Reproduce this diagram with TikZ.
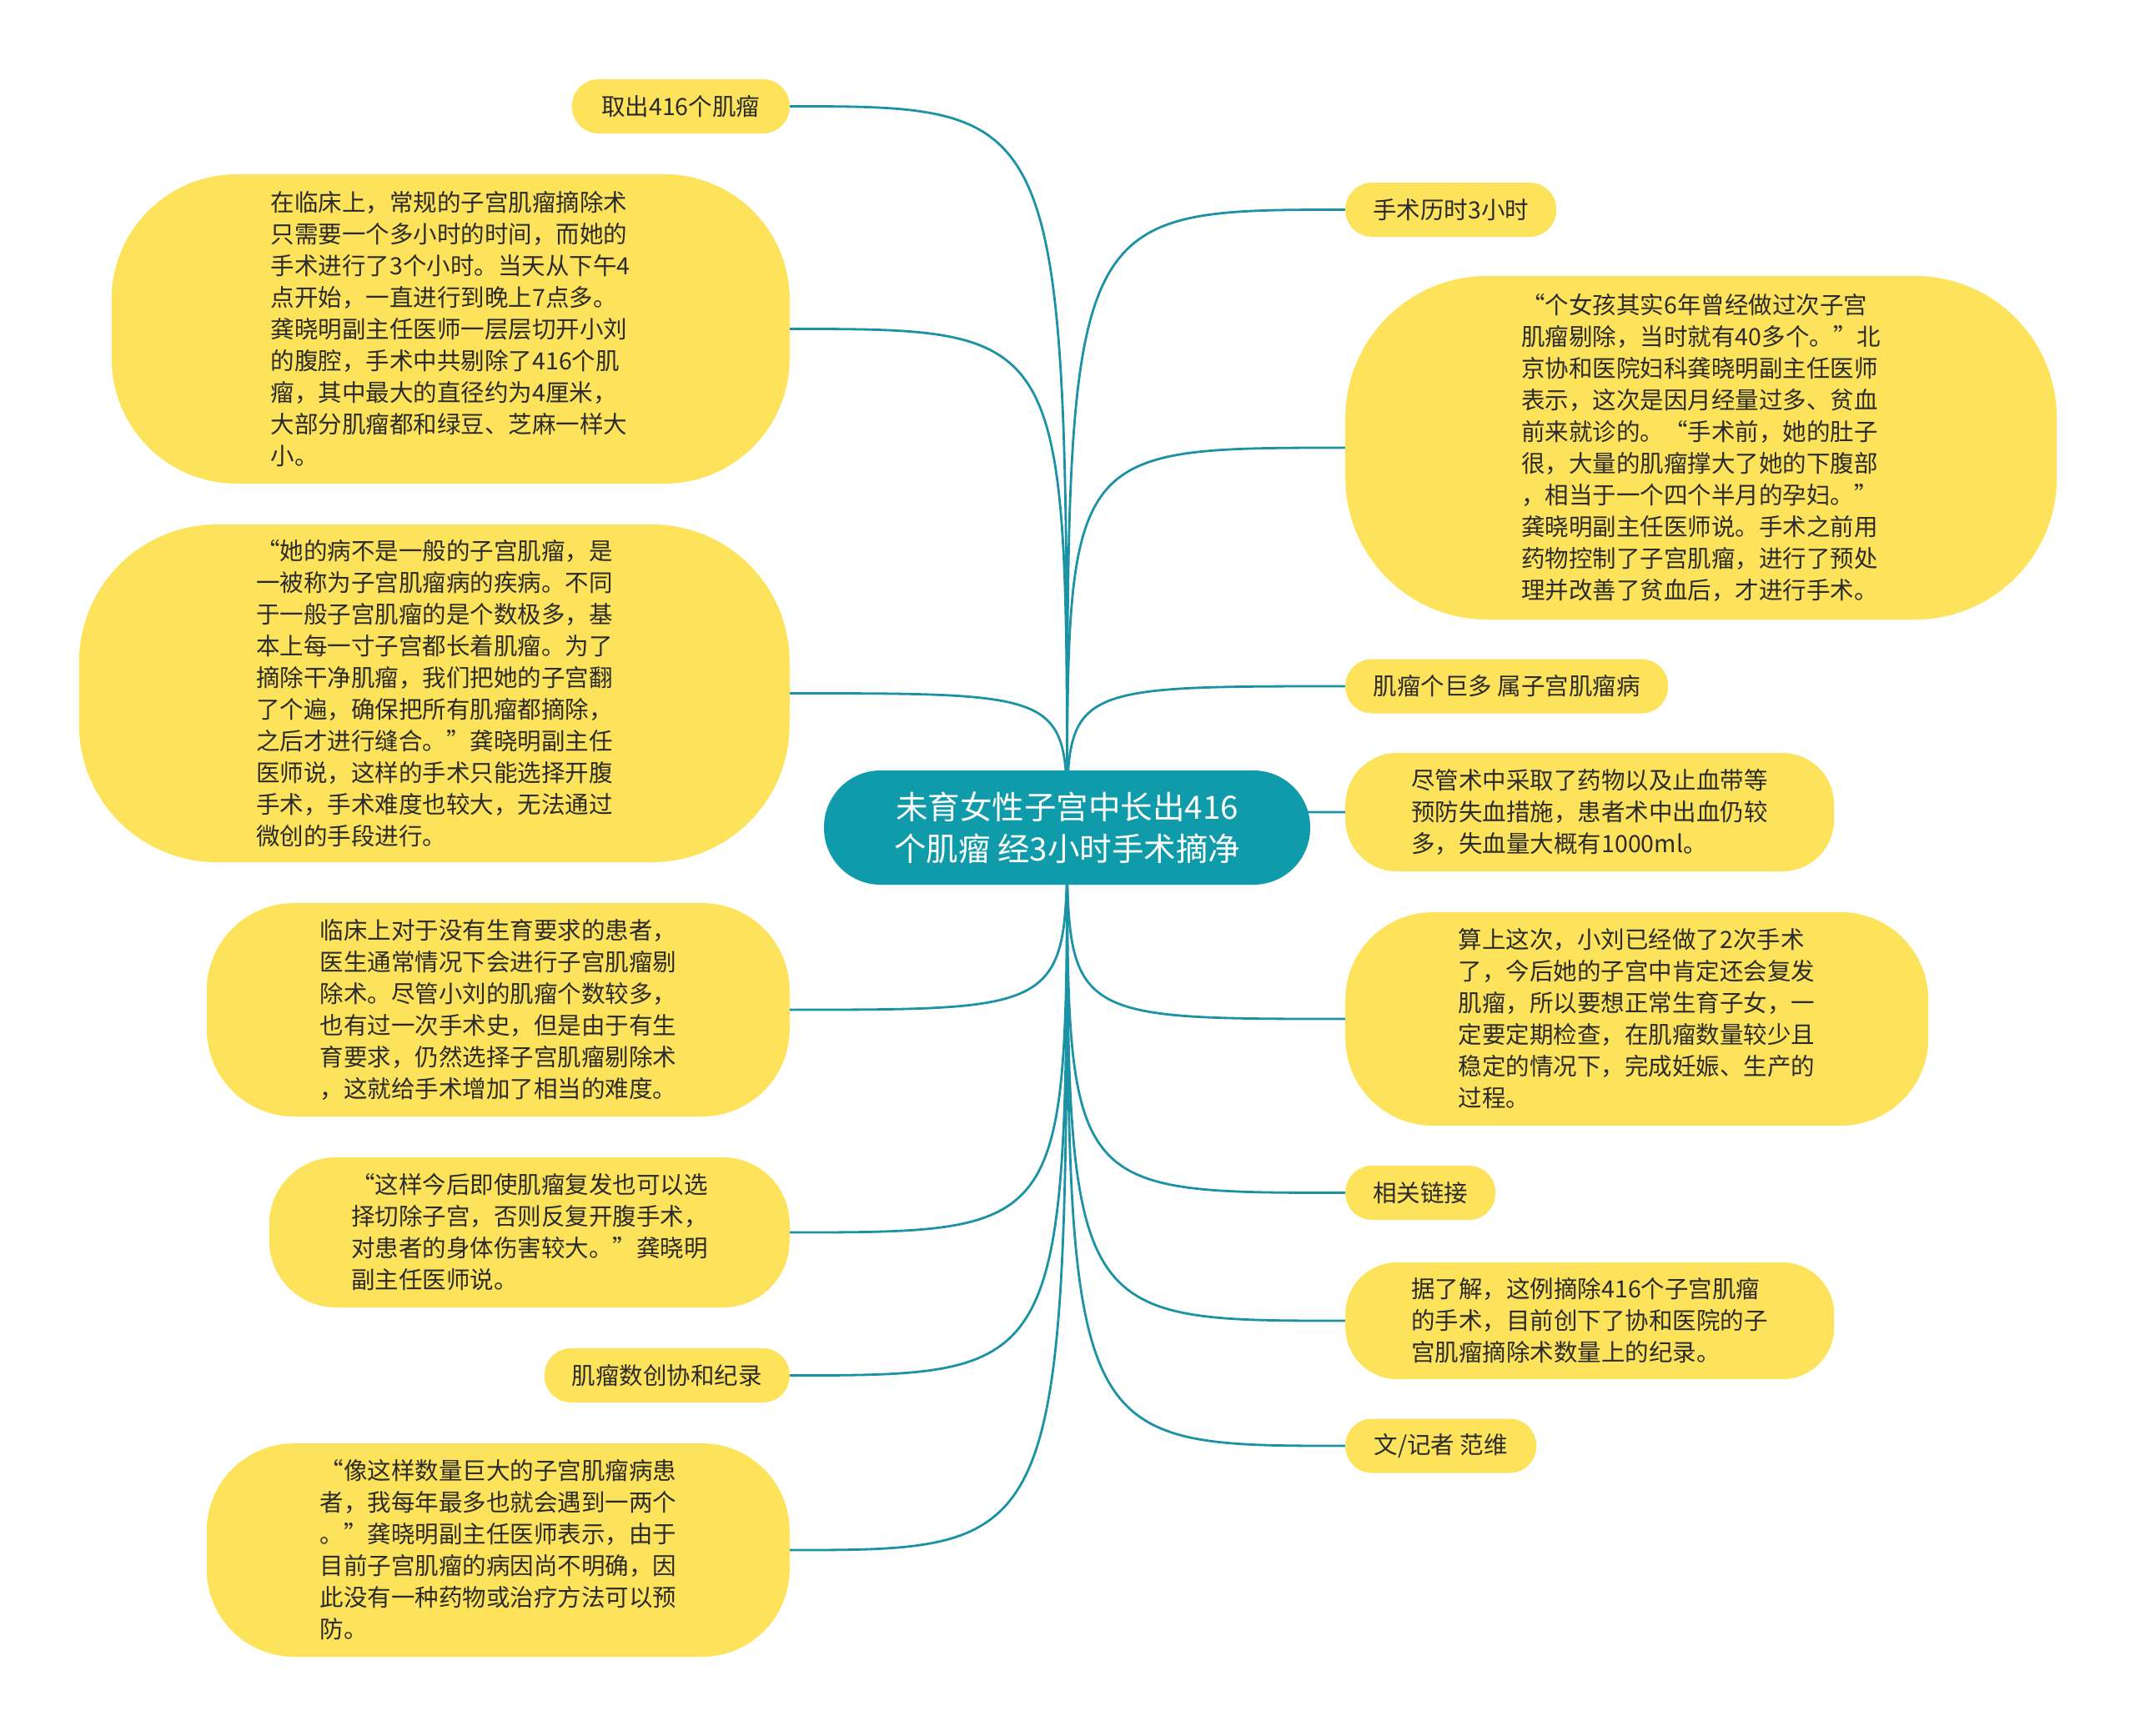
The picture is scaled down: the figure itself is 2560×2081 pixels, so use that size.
\documentclass[tikz,border=0pt]{standalone}
\usepackage{fontspec}
\setmainfont{Noto Sans CJK SC}
\usetikzlibrary{backgrounds}

\definecolor{rootteal}{HTML}{0F9BAA}
\definecolor{leafyellow}{HTML}{FDE35B}
\definecolor{linkteal}{HTML}{1C93A4}
\definecolor{leaftext}{HTML}{2B2B2B}

\tikzset{
  rootbox/.style={fill=rootteal, text=white, align=center, inner sep=0pt,
    font=\fontsize{38.5}{50}\selectfont},
  leaf/.style={fill=leafyellow, text=leaftext, align=left, inner sep=0pt,
    font=\fontsize{28.5}{38}\selectfont},
  oneline/.style={leaf, minimum height=65pt, rounded corners=32pt},
  link/.style={draw=linkteal, line width=2.8pt}
}

\begin{document}
\begin{tikzpicture}[x=1pt,y=-1pt]
\useasboundingbox (0,0) rectangle (2560,2081);

\node[rootbox, minimum width=583pt, minimum height=137pt, rounded corners=68pt] (root) at (1279.5,992.5)
{未育女性子宫中长出416\\个肌瘤 经3小时手术摘净};

% left side
\node[oneline, minimum width=261pt, anchor=east] (l1) at (947,127.5) {取出416个肌瘤};

\node[leaf, minimum width=813pt, minimum height=371pt, rounded corners=150pt, anchor=east] (l2) at (947,394.5)
{在临床上，常规的子宫肌瘤摘除术\\只需要一个多小时的时间，而她的\\手术进行了3个小时。当天从下午4\\点开始，一直进行到晚上7点多。\\龚晓明副主任医师一层层切开小刘\\的腹腔，手术中共剔除了416个肌\\瘤，其中最大的直径约为4厘米，\\大部分肌瘤都和绿豆、芝麻一样大\\小。};

\node[leaf, minimum width=852pt, minimum height=405pt, rounded corners=165pt, anchor=east] (l3) at (947,831.5)
{“她的病不是一般的子宫肌瘤，是\\一被称为子宫肌瘤病的疾病。不同\\于一般子宫肌瘤的是个数极多，基\\本上每一寸子宫都长着肌瘤。为了\\摘除干净肌瘤，我们把她的子宫翻\\了个遍，确保把所有肌瘤都摘除，\\之后才进行缝合。”龚晓明副主任\\医师说，这样的手术只能选择开腹\\手术，手术难度也较大，无法通过\\微创的手段进行。};

\node[leaf, minimum width=699pt, minimum height=256pt, rounded corners=105pt, anchor=east] (l4) at (947,1211)
{临床上对于没有生育要求的患者，\\医生通常情况下会进行子宫肌瘤剔\\除术。尽管小刘的肌瘤个数较多，\\也有过一次手术史，但是由于有生\\育要求，仍然选择子宫肌瘤剔除术\\，这就给手术增加了相当的难度。};

\node[leaf, minimum width=624pt, minimum height=180pt, rounded corners=80pt, anchor=east] (l5) at (947,1478)
{“这样今后即使肌瘤复发也可以选\\择切除子宫，否则反复开腹手术，\\对患者的身体伤害较大。”龚晓明\\副主任医师说。};

\node[oneline, minimum width=294pt, anchor=east] (l6) at (947,1649.5) {肌瘤数创协和纪录};

\node[leaf, minimum width=699pt, minimum height=256pt, rounded corners=105pt, anchor=east] (l7) at (947,1859)
{“像这样数量巨大的子宫肌瘤病患\\者，我每年最多也就会遇到一两个\\。”龚晓明副主任医师表示，由于\\目前子宫肌瘤的病因尚不明确，因\\此没有一种药物或治疗方法可以预\\防。};

% right side
\node[oneline, minimum width=253pt, anchor=west] (r1) at (1613,251.5) {手术历时3小时};

\node[leaf, minimum width=853pt, minimum height=412pt, rounded corners=170pt, anchor=west] (r2) at (1613,537)
{“个女孩其实6年曾经做过次子宫\\肌瘤剔除，当时就有40多个。”北\\京协和医院妇科龚晓明副主任医师\\表示，这次是因月经量过多、贫血\\前来就诊的。“手术前，她的肚子\\很，大量的肌瘤撑大了她的下腹部\\，相当于一个四个半月的孕妇。”\\龚晓明副主任医师说。手术之前用\\药物控制了子宫肌瘤，进行了预处\\理并改善了贫血后，才进行手术。};

\node[oneline, minimum width=387pt, anchor=west] (r3) at (1613,823) {肌瘤个巨多 属子宫肌瘤病};

\node[leaf, minimum width=586pt, minimum height=142pt, rounded corners=62pt, anchor=west] (r4) at (1613,974)
{尽管术中采取了药物以及止血带等\\预防失血措施，患者术中出血仍较\\多，失血量大概有1000ml。};

\node[leaf, minimum width=699pt, minimum height=256pt, rounded corners=105pt, anchor=west] (r5) at (1613,1222)
{算上这次，小刘已经做了2次手术\\了，今后她的子宫中肯定还会复发\\肌瘤，所以要想正常生育子女，一\\定要定期检查，在肌瘤数量较少且\\稳定的情况下，完成妊娠、生产的\\过程。};

\node[oneline, minimum width=180pt, anchor=west] (r6) at (1613,1430.5) {相关链接};

\node[leaf, minimum width=586pt, minimum height=140pt, rounded corners=62pt, anchor=west] (r7) at (1613,1584)
{据了解，这例摘除416个子宫肌瘤\\的手术，目前创下了协和医院的子\\宫肌瘤摘除术数量上的纪录。};

\node[oneline, minimum width=229pt, anchor=west] (r8) at (1613,1734) {文/记者 范维};

\begin{scope}[on background layer]
\draw[link] (root.center) .. controls (root.center |- l1.east) and (root.center |- l1.east) .. (l1.east);
\draw[link] (root.center) .. controls (root.center |- l2.east) and (root.center |- l2.east) .. (l2.east);
\draw[link] (root.center) .. controls (root.center |- l3.east) and (root.center |- l3.east) .. (l3.east);
\draw[link] (root.center) .. controls (root.center |- l4.east) and (root.center |- l4.east) .. (l4.east);
\draw[link] (root.center) .. controls (root.center |- l5.east) and (root.center |- l5.east) .. (l5.east);
\draw[link] (root.center) .. controls (root.center |- l6.east) and (root.center |- l6.east) .. (l6.east);
\draw[link] (root.center) .. controls (root.center |- l7.east) and (root.center |- l7.east) .. (l7.east);
\draw[link] (root.center) .. controls (root.center |- r1.west) and (root.center |- r1.west) .. (r1.west);
\draw[link] (root.center) .. controls (root.center |- r2.west) and (root.center |- r2.west) .. (r2.west);
\draw[link] (root.center) .. controls (root.center |- r3.west) and (root.center |- r3.west) .. (r3.west);
\draw[link] (root.center) .. controls (root.center |- r4.west) and (root.center |- r4.west) .. (r4.west);
\draw[link] (root.center) .. controls (root.center |- r5.west) and (root.center |- r5.west) .. (r5.west);
\draw[link] (root.center) .. controls (root.center |- r6.west) and (root.center |- r6.west) .. (r6.west);
\draw[link] (root.center) .. controls (root.center |- r7.west) and (root.center |- r7.west) .. (r7.west);
\draw[link] (root.center) .. controls (root.center |- r8.west) and (root.center |- r8.west) .. (r8.west);
\end{scope}
\end{tikzpicture}
\end{document}
